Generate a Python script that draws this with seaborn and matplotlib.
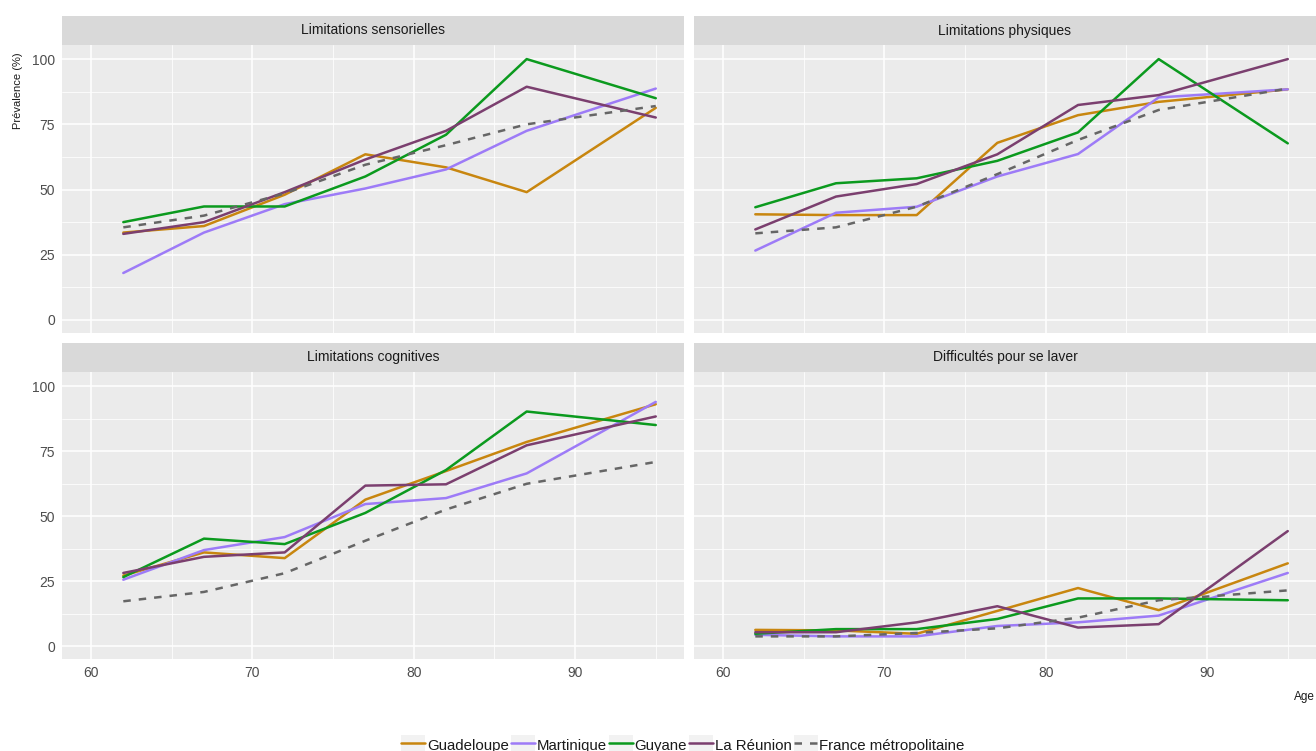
import numpy as np
import pandas as pd
import matplotlib
matplotlib.use('Agg')
import matplotlib.pyplot as plt
from matplotlib.lines import Line2D
from matplotlib.patches import Patch
from matplotlib.legend_handler import HandlerTuple
import seaborn as sns

sns.set_style("white")
plt.rcParams['font.family'] = ['Liberation Sans', 'DejaVu Sans']

# data
ages = [62, 67, 72, 77, 82, 87, 95]
regions = ['Guadeloupe', 'Martinique', 'Guyane', 'La Réunion', 'France métropolitaine']
colors = ['#C8860F', '#9D7BF7', '#0B9A1E', '#7B3F6F', '#666666']
panel_titles = ['Limitations sensorielles', 'Limitations physiques',
                'Limitations cognitives', 'Difficultés pour se laver']

sensorielles = {
    'Guadeloupe': [33.5, 36, 48, 63.5, 58.5, 49, 81.3],
    'Martinique': [18, 33.5, 44.4, 50.4, 57.7, 72.5, 88.7],
    'Guyane': [37.5, 43.5, 43.5, 55, 71, 100, 85],
    'La Réunion': [33, 37.5, 49, 61.5, 72.5, 89.4, 77.6],
    'France métropolitaine': [35.5, 40, 48.5, 59.5, 67, 75, 82],
}
physiques = {
    'Guadeloupe': [40.5, 40.2, 40.2, 67.9, 78.5, 83.6, 88.4],
    'Martinique': [26.6, 41.1, 43.4, 55, 63.6, 85.3, 88.4],
    'Guyane': [43.2, 52.4, 54.3, 61, 71.9, 100, 67.7],
    'La Réunion': [34.7, 47.3, 52.1, 63.5, 82.4, 86.2, 100],
    'France métropolitaine': [33.2, 35.5, 43.4, 55.9, 69, 80.5, 88.7],
}
cognitives = {
    'Guadeloupe': [27.1, 36, 33.8, 56.3, 67.3, 78.5, 93],
    'Martinique': [25.5, 36.9, 41.9, 54.6, 56.9, 66.4, 93.9],
    'Guyane': [26.5, 41.3, 39.2, 51.2, 67.7, 90.2, 85],
    'La Réunion': [28.1, 34.3, 36, 61.7, 62.2, 77.2, 88.3],
    'France métropolitaine': [17.2, 20.8, 28, 40.5, 52.5, 62.4, 70.8],
}
laver = {
    'Guadeloupe': [6.2, 6.0, 4.7, 13.5, 22.3, 13.8, 31.8],
    'Martinique': [4.3, 3.7, 3.7, 7.7, 9.1, 11.7, 28.1],
    'Guyane': [4.7, 6.5, 6.5, 10.4, 18.3, 18.3, 17.6],
    'La Réunion': [5.3, 5.3, 9.1, 15.3, 7.1, 8.4, 44.2],
    'France métropolitaine': [3.7, 3.7, 5, 6.8, 10.9, 17.6, 21.4],
}
panel_data = [sensorielles, physiques, cognitives, laver]

rows = []
for title, d in zip(panel_titles, panel_data):
    for reg in regions:
        for a, v in zip(ages, d[reg]):
            rows.append({'panel': title, 'region': reg, 'age': a, 'val': v})
df = pd.DataFrame(rows)

palette = dict(zip(regions, colors))
dashes = {r: '' for r in regions}
dashes['France métropolitaine'] = (3, 3.2)

W, H = 1316, 751
fig = plt.figure(figsize=(W / 100, H / 100), dpi=100)


def box(x0, y0, x1, y1):
    return [x0 / W, 1 - y1 / H, (x1 - x0) / W, (y1 - y0) / H]


cols = [(62, 684), (694, 1316)]
rws = [((16, 45), (45, 333)), ((343, 372), (372, 659))]

for i, title in enumerate(panel_titles):
    r, c = divmod(i, 2)
    x0, x1 = cols[c]
    (s0, s1), (p0, p1) = rws[r]

    # strip
    sax = fig.add_axes(box(x0, s0, x1, s1))
    sax.set_facecolor('#D9D9D9')
    sax.set_xticks([]); sax.set_yticks([])
    for sp in sax.spines.values():
        sp.set_visible(False)
    sax.text(0.5, 0.5, title, ha='center', va='center', fontsize=10, color='#1A1A1A',
             transform=sax.transAxes)

    ax = fig.add_axes(box(x0, p0, x1, p1))
    ax.set_facecolor('#EBEBEB')
    for sp in ax.spines.values():
        sp.set_visible(False)
    sub = df[df['panel'] == title]
    sns.lineplot(data=sub, x='age', y='val', hue='region', style='region',
                 hue_order=regions, style_order=regions, palette=palette,
                 dashes=dashes, linewidth=1.8, legend=False, ax=ax)
    ax.set_xlim(58.2, 96.75)
    ax.set_ylim(-5, 105.4)
    ax.set_xticks([60, 70, 80, 90])
    ax.set_xticks([65, 75, 85, 95], minor=True)
    ax.set_yticks([0, 25, 50, 75, 100])
    ax.set_yticks([12.5, 37.5, 62.5, 87.5], minor=True)
    ax.grid(which='major', color='white', linewidth=1.1)
    ax.grid(which='minor', color='white', linewidth=0.55)
    ax.set_axisbelow(True)
    ax.set_xlabel('')
    ax.set_ylabel('')
    ax.tick_params(which='minor', length=0)
    ax.tick_params(which='major', length=3, width=0.8, color='#333333',
                   labelcolor='#4D4D4D', labelsize=10, pad=2)
    if r == 0:
        ax.tick_params(axis='x', which='major', length=0, labelbottom=False)
    if c == 1:
        ax.tick_params(axis='y', which='major', length=0, labelleft=False)

fig.text(18 / W, 1 - 91 / H, 'Prévalence (%)', rotation=90, ha='center', va='center',
         fontsize=8, color='#1A1A1A')
fig.text(1 - 1 / W, 1 - 697 / H, 'Age', ha='right', va='center', fontsize=8.5,
         color='#1A1A1A')

handles = []
for reg, col in zip(regions, colors):
    ls = (0, (3, 3.2)) if reg == 'France métropolitaine' else '-'
    handles.append((Patch(facecolor='#F2F2F2', edgecolor='none'),
                    Line2D([], [], color=col, linewidth=1.8, linestyle=ls)))
fig.legend(handles, regions, handler_map={tuple: HandlerTuple(ndivide=1)},
           loc='center', bbox_to_anchor=(683 / W, 1 - 745 / H), ncol=5, frameon=False,
           handlelength=1.6, handleheight=1.6, handletextpad=0.1, columnspacing=0.15,
           fontsize=10.8, labelcolor='#1A1A1A')

fig.savefig('out.png', dpi=100)
